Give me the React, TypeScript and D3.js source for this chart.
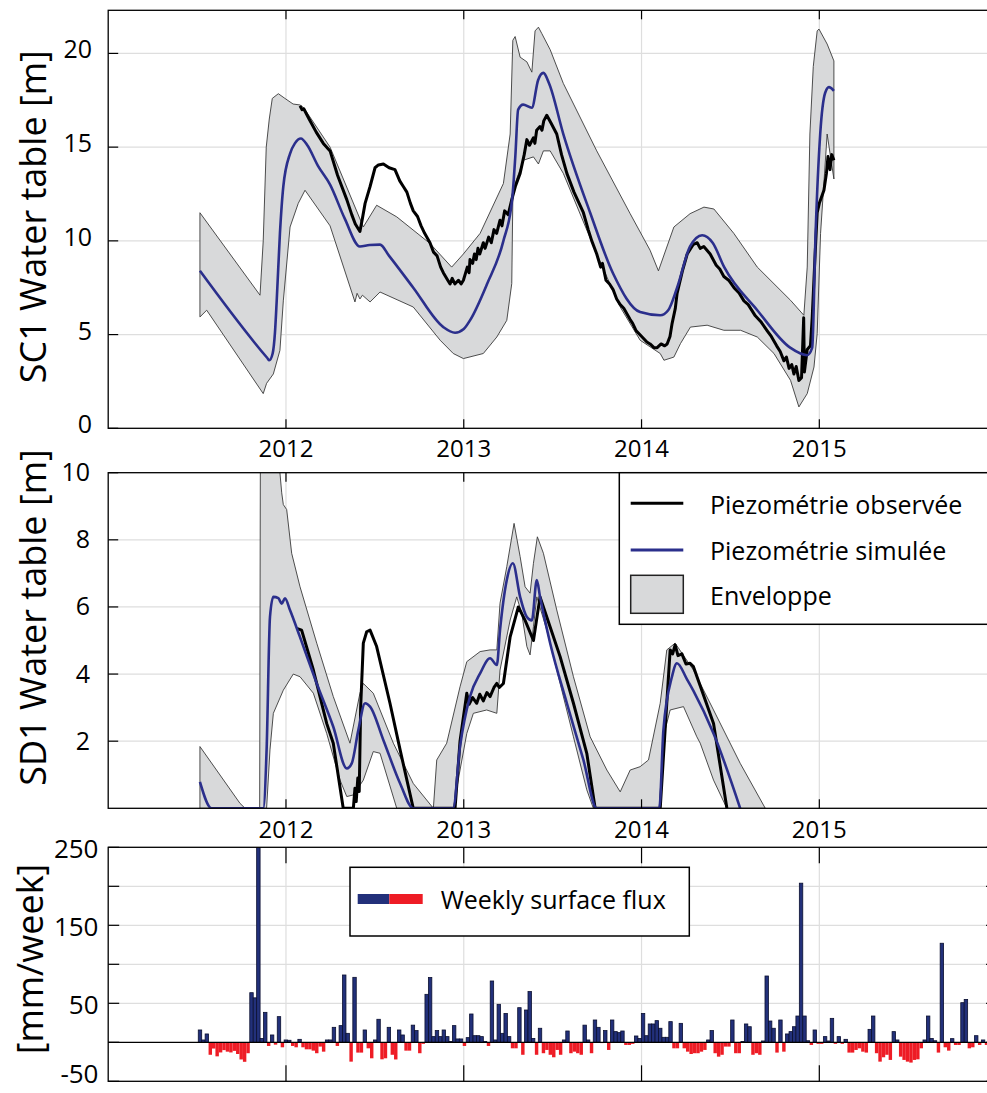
import React from 'react';
import * as d3 from 'd3';

type P = [number, number];

// ---------- tick values ----------
const yearTicks = [2012, 2013, 2014, 2015];
const sc1Ticks = [0, 5, 10, 15, 20];
const sd1Ticks = [2, 4, 6, 8, 10];
const fluxTicks = [-50, 0, 50, 100, 150, 200, 250];
const fluxLabels = [250, 150, 50, -50];

// ---------- SC1 ----------
const sc1Sim: P[] = [
  [2011.516, 8.4], [2011.895, 3.75], [2011.906, 3.63], [2011.925, 3.99], [2011.938, 5.1], [2011.948, 6.83],
  [2011.966, 10.4], [2011.985, 12.9], [2012.023, 14.66], [2012.05, 15.2], [2012.084, 15.46], [2012.12, 15.1],
  [2012.18, 14.0], [2012.248, 13.0], [2012.33, 11.2], [2012.416, 9.7], [2012.47, 9.78], [2012.529, 9.8],
  [2012.58, 9.2], [2012.716, 7.5], [2012.885, 5.4], [2012.951, 5.1], [2013.0, 5.3], [2013.035, 5.76],
  [2013.131, 7.7], [2013.223, 10.0], [2013.272, 12.2], [2013.29, 14.5], [2013.306, 17.0], [2013.334, 17.27],
  [2013.383, 17.1], [2013.418, 18.57], [2013.448, 18.96], [2013.48, 18.4], [2013.56, 15.7], [2013.711, 11.5],
  [2013.84, 8.26], [2013.992, 6.2], [2014.105, 6.03], [2014.15, 6.3], [2014.2, 7.5], [2014.273, 9.7],
  [2014.341, 10.3], [2014.4, 9.9], [2014.465, 8.6], [2014.651, 6.3], [2014.836, 4.3], [2014.932, 3.9],
  [2014.96, 4.3], [2014.979, 10.4], [2015.005, 15.7], [2015.033, 17.9], [2015.054, 18.2], [2015.082, 18.0],
];

const sc1Obs: P[] = [
  [2012.079, 17.2], [2012.09, 17.0], [2012.1, 17.05], [2012.13, 16.5], [2012.17, 15.8], [2012.21, 15.2],
  [2012.248, 14.8], [2012.29, 13.5], [2012.342, 12.2], [2012.37, 11.4], [2012.39, 10.9], [2012.416, 10.5],
  [2012.43, 11.2], [2012.445, 12.0], [2012.473, 12.9], [2012.501, 13.9], [2012.52, 14.05], [2012.548, 14.1],
  [2012.58, 13.9], [2012.613, 13.8], [2012.64, 13.2], [2012.66, 12.9], [2012.68, 12.6], [2012.7, 12.0],
  [2012.716, 11.6], [2012.74, 11.3], [2012.76, 10.8], [2012.78, 10.4], [2012.81, 9.9], [2012.83, 9.4],
  [2012.85, 9.2], [2012.87, 8.6], [2012.885, 8.3], [2012.91, 7.9], [2012.923, 7.7], [2012.935, 8.0],
  [2012.95, 7.7], [2012.97, 7.9], [2012.985, 7.7], [2012.998, 7.9], [2013.02, 8.6], [2013.03, 8.3],
  [2013.035, 9.0], [2013.05, 8.8], [2013.06, 9.3], [2013.07, 9.0], [2013.08, 9.6], [2013.09, 9.3],
  [2013.11, 9.9], [2013.12, 9.6], [2013.14, 10.2], [2013.155, 9.9], [2013.17, 10.6], [2013.185, 10.4],
  [2013.204, 11.1], [2013.215, 10.8], [2013.23, 11.6], [2013.25, 11.4], [2013.27, 12.2], [2013.29, 12.9],
  [2013.317, 13.6], [2013.34, 14.6], [2013.355, 15.4], [2013.37, 15.1], [2013.392, 15.5], [2013.4, 15.2],
  [2013.41, 15.9], [2013.429, 16.1], [2013.44, 15.9], [2013.45, 16.4], [2013.467, 16.7], [2013.49, 16.3],
  [2013.523, 15.7], [2013.55, 14.6], [2013.58, 13.6], [2013.62, 12.6], [2013.673, 11.5], [2013.7, 10.6],
  [2013.72, 10.0], [2013.748, 9.3], [2013.77, 8.6], [2013.78, 8.8], [2013.8, 7.9], [2013.82, 7.7],
  [2013.84, 7.4], [2013.86, 6.9], [2013.88, 6.6], [2013.9, 6.4], [2013.936, 5.8], [2013.95, 5.6],
  [2013.97, 5.2], [2013.99, 5.0], [2014.01, 4.8], [2014.03, 4.6], [2014.048, 4.5], [2014.07, 4.3],
  [2014.088, 4.3], [2014.11, 4.5], [2014.13, 4.4], [2014.144, 4.5], [2014.16, 4.9], [2014.172, 5.6],
  [2014.19, 6.4], [2014.2, 7.2], [2014.23, 8.4], [2014.257, 9.3], [2014.29, 9.8], [2014.313, 9.9],
  [2014.33, 9.6], [2014.35, 9.7], [2014.386, 9.3], [2014.42, 8.7], [2014.44, 8.5], [2014.463, 8.1],
  [2014.49, 7.9], [2014.52, 7.5], [2014.55, 7.2], [2014.576, 6.8], [2014.6, 6.6], [2014.64, 6.0],
  [2014.67, 5.7], [2014.707, 5.2], [2014.73, 4.9], [2014.76, 4.4], [2014.78, 4.1], [2014.801, 3.6],
  [2014.815, 3.8], [2014.83, 3.2], [2014.845, 3.4], [2014.857, 2.9], [2014.87, 3.3], [2014.885, 2.55],
  [2014.9, 2.7], [2014.912, 5.9], [2014.916, 3.0], [2014.932, 4.2], [2014.95, 4.4], [2014.96, 5.9],
  [2014.975, 9.0], [2014.988, 11.5], [2015.0, 12.0], [2015.026, 12.7], [2015.04, 13.6], [2015.049, 14.5],
  [2015.06, 13.8], [2015.07, 14.6], [2015.082, 14.3],
];

const sc1Upper: P[] = [
  [2011.516, 11.5], [2011.854, 7.1], [2011.872, 10.0], [2011.889, 15.0], [2011.906, 16.5], [2011.923, 17.6],
  [2011.957, 17.85], [2011.994, 17.6], [2012.04, 17.3], [2012.079, 17.25], [2012.1, 17.1], [2012.248, 15.0],
  [2012.435, 10.74], [2012.51, 11.9], [2012.623, 11.28], [2012.81, 9.86], [2012.932, 8.6], [2012.998, 9.3],
  [2013.092, 10.4], [2013.223, 13.06], [2013.261, 15.7], [2013.276, 20.7], [2013.289, 20.9], [2013.317, 19.8],
  [2013.355, 19.55], [2013.383, 19.0], [2013.401, 21.2], [2013.42, 21.4], [2013.439, 21.06], [2013.486, 20.2],
  [2013.56, 18.4], [2013.748, 14.8], [2013.936, 11.45], [2014.048, 9.5], [2014.095, 8.4], [2014.182, 10.74],
  [2014.273, 11.45], [2014.351, 11.8], [2014.407, 11.7], [2014.519, 10.4], [2014.651, 8.6], [2014.838, 6.83],
  [2014.913, 6.03], [2014.932, 8.6], [2014.947, 15.7], [2014.966, 19.3], [2014.988, 21.2], [2014.998, 21.3],
  [2015.044, 20.5], [2015.082, 19.6],
];

const sc1Lower: P[] = [
  [2011.516, 5.94], [2011.554, 6.3], [2011.872, 1.85], [2011.891, 2.4], [2011.929, 2.9], [2011.966, 4.16],
  [2011.985, 6.8], [2012.023, 10.74], [2012.069, 12.0], [2012.107, 12.7], [2012.248, 10.8], [2012.388, 6.74],
  [2012.4, 7.2], [2012.416, 6.9], [2012.43, 7.1], [2012.473, 6.74], [2012.529, 7.27], [2012.716, 6.47],
  [2012.867, 4.7], [2012.941, 3.99], [2012.998, 3.72], [2013.11, 3.99], [2013.186, 4.87], [2013.242, 5.76],
  [2013.27, 7.72], [2013.276, 12.2], [2013.289, 13.06], [2013.335, 14.3], [2013.392, 14.48], [2013.42, 14.1],
  [2013.448, 14.8], [2013.486, 14.8], [2013.56, 13.6], [2013.748, 9.3], [2013.88, 6.47], [2013.992, 4.7],
  [2014.105, 3.99], [2014.126, 3.63], [2014.182, 3.8], [2014.219, 4.52], [2014.275, 5.4], [2014.369, 5.5],
  [2014.463, 5.23], [2014.557, 5.23], [2014.651, 4.87], [2014.745, 3.99], [2014.838, 2.56], [2014.885, 1.14],
  [2014.932, 1.85], [2014.97, 3.27], [2014.988, 5.05], [2015.007, 10.4], [2015.044, 15.7], [2015.082, 13.3],
];

// ---------- SD1 ----------
const sd1Sim: P[] = [
  [2011.516, 0.79], [2011.582, 0], [2011.872, 0], [2011.891, 1.74], [2011.91, 5.7], [2011.929, 6.3],
  [2011.957, 6.26], [2011.976, 6.1], [2011.994, 6.26], [2012.023, 5.9], [2012.079, 5.1], [2012.173, 3.72],
  [2012.266, 2.43], [2012.342, 1.19], [2012.37, 1.34], [2012.407, 2.33], [2012.445, 3.13], [2012.473, 3.03],
  [2012.548, 2.03], [2012.642, 0.74], [2012.716, 0], [2012.94, 0], [2012.979, 1.84], [2013.035, 3.33],
  [2013.092, 4.02], [2013.148, 4.47], [2013.186, 4.27], [2013.204, 5.31], [2013.242, 6.8], [2013.276, 7.3],
  [2013.317, 6.3], [2013.355, 5.7], [2013.383, 5.6], [2013.411, 6.8], [2013.429, 6.3], [2013.486, 4.92],
  [2013.58, 3.13], [2013.673, 1.44], [2013.748, 0], [2014.1, 0], [2014.123, 2.33], [2014.171, 3.92],
  [2014.199, 4.32], [2014.255, 3.85], [2014.292, 3.5], [2014.405, 2.23], [2014.555, 0],
];

const sd1Obs: P[] = [
  [2012.06, 5.36], [2012.088, 5.31], [2012.154, 4.12], [2012.229, 2.53], [2012.266, 1.94], [2012.322, 0],
  [2012.379, 0], [2012.388, 0.6], [2012.395, 0.2], [2012.404, 0.9], [2012.412, 0.5], [2012.42, 3.0],
  [2012.435, 4.92], [2012.454, 5.26], [2012.473, 5.31], [2012.51, 4.82], [2012.585, 3.13], [2012.642, 1.74],
  [2012.716, 0], [2012.951, 0], [2012.979, 2.0], [2013.017, 3.43], [2013.03, 3.1], [2013.05, 3.3],
  [2013.073, 3.13], [2013.09, 3.4], [2013.11, 3.2], [2013.13, 3.45], [2013.148, 3.33], [2013.17, 3.6],
  [2013.186, 3.72], [2013.2, 3.6], [2013.223, 3.72], [2013.261, 5.11], [2013.307, 6.0], [2013.345, 5.6],
  [2013.392, 5.0], [2013.429, 6.3], [2013.467, 5.7], [2013.542, 4.52], [2013.617, 3.13], [2013.692, 1.64],
  [2013.739, 0], [2014.105, 0], [2014.142, 3.13], [2014.161, 4.72], [2014.175, 4.6], [2014.189, 4.87],
  [2014.205, 4.55], [2014.227, 4.6], [2014.25, 4.3], [2014.273, 4.32], [2014.292, 4.22], [2014.405, 2.53],
  [2014.48, 0],
];

const sd1Upper: P[] = [
  [2011.516, 1.84], [2011.741, 0.15], [2011.77, 0], [2011.852, 0], [2011.856, 10.8], [2011.94, 11.0],
  [2011.966, 10.0], [2011.976, 9.4], [2011.985, 9.05], [2012.004, 8.9], [2012.032, 7.6], [2012.079, 6.6],
  [2012.173, 4.92], [2012.266, 3.33], [2012.36, 1.94], [2012.416, 3.43], [2012.435, 3.72], [2012.491, 3.43],
  [2012.604, 1.94], [2012.716, 0.74], [2012.829, 0], [2012.848, 1.44], [2012.904, 1.94], [2012.979, 3.62],
  [2013.017, 4.37], [2013.092, 4.67], [2013.148, 4.72], [2013.186, 4.72], [2013.204, 6.11], [2013.242, 7.2],
  [2013.283, 8.49], [2013.317, 7.5], [2013.345, 6.6], [2013.373, 6.41], [2013.392, 7.3], [2013.414, 8.09],
  [2013.448, 7.6], [2013.523, 5.91], [2013.617, 3.92], [2013.711, 2.13], [2013.805, 1.14], [2013.88, 0.49],
  [2013.936, 1.14], [2013.992, 1.24], [2014.039, 1.44], [2014.105, 3.13], [2014.142, 4.72], [2014.189, 4.92],
  [2014.292, 4.12], [2014.405, 2.93], [2014.555, 1.34], [2014.696, 0],
];

const sd1Lower: P[] = [
  [2011.516, 0], [2011.891, 0], [2011.91, 1.74], [2011.929, 2.83], [2011.985, 3.52], [2012.041, 4.0],
  [2012.079, 3.92], [2012.154, 3.43], [2012.229, 2.23], [2012.304, 0.84], [2012.342, 0.35], [2012.38, 0.4],
  [2012.435, 0.84], [2012.491, 1.69], [2012.529, 1.64], [2012.623, 0], [2012.941, 0], [2012.979, 1.14],
  [2013.017, 2.23], [2013.054, 2.83], [2013.129, 2.93], [2013.186, 2.83], [2013.204, 4.12], [2013.261, 5.61],
  [2013.298, 6.3], [2013.326, 5.81], [2013.355, 4.82], [2013.373, 4.57], [2013.392, 5.41], [2013.411, 6.3],
  [2013.467, 5.31], [2013.542, 3.72], [2013.617, 2.13], [2013.692, 0.55], [2013.729, 0], [2014.105, 0],
  [2014.123, 2.13], [2014.161, 2.93], [2014.236, 3.03], [2014.311, 2.13], [2014.33, 1.94], [2014.405, 0.84],
  [2014.48, 0], [2014.696, 0],
];

// ---------- weekly surface flux [mm/week] ----------
const fluxStart = 2011.5066;
const fluxWeek = 0.01932;
const flux: number[] = [
  15.8, 3, 10.7, -16, -8, -18, -13, -10, -12, -13, -11, -15, -22, -25, -14, 63.6, 57, 270, 5, 38.4,
  -4.7, 9.4, -3, 32.9, -6.4, 3, 2.6, -4.7, -6.4, 3.8, -6.4, -9, -9, -10.7, -14, -5.5, -12, 3, 3, 19.2,
  -4.7, 21.4, 86.3, 11.5, -24.8, 83.3, -13.2, -13.2, 15.8, -7.7, -20.5, 3, 29.5, -21.8, -20.5, 19.2, -16, -22, 15.8, 9.4,
  -10.7, -10.7, 22, 15, -14, -2, 61.5, 83, 7.3, 15, 7.3, 15.8, 7.3, 1, 21.4, 4.3, 4.3, -4.7, 6, 36.3,
  8.5, 8.5, 7.3, 1, -4.7, 78.6, 3, 48.7, 11.5, 37, 7.3, -7.7, -7.7, 44.4, -16, 41.4, 65, 5, -16, 18,
  -14, -9.8, -16, -19.2, -9.8, -16, 3, 14.5, -14, -12, -14, -16, 22, 3, -14, 28.6, 19.2, -1, 15, -9.8,
  28.6, 13.7, 12.4, 14.5, -3.4, -3.4, -2, 8.1, 5, 37, 8.5, 23.5, 23.5, 27.8, 18, 6.4, 6.4, 26.5, -7.7, -7.7,
  24.3, -7.7, -12, -15, -14, -14, -12, -9.8, 3, 15, -14, -18.4, -16, -5.5, -5.5, 28.6, -14, -14, 1, 23.5,
  20, -16, -14, -16, 1.7, 85, 27.3, 18, -13.2, 28.6, -12, 10.7, 13.7, 20, 33.7, 204, 33.7, 2, -3.4, 15.8,
  -2, -2, 7.3, 1.7, 30.7, -2, 7.3, -2, 3.8, -13.2, -13.2, -9.8, -7.7, -12, -13.2, 16.6, 33.7, -14, -24.8, -19.2,
  -16, -22.6, 13.7, 3, -18.4, -22.6, -24.8, -26, -22.6, -21.8, -7.7, 3, 33.7, 5, 2, -13.2, 127, -6.4, -10.7, 4.7,
  -3.4, -3.4, 50.8, 55, -7.7, -6.4, 8.5, -3.4, 3, -3.4,
];

// ---------- layout ----------
const W = 987;
const H = 1093;
const FONT = "'Open Sans', 'Noto Sans', sans-serif";
const BLUE = '#2b2f8c';
const ENV_FILL = '#d8d9da';
const GRID = '#dedede';

const x = d3.scaleLinear().domain([2011, 2016]).range([108.2, 997.1]);
const X_LEFT = 108.2;
const X_RIGHT = 997.1;

const yTop = d3.scaleLinear().domain([0, 22.3]).range([428.3, 10.3]);
const yMid = d3.scaleLinear().domain([0, 10]).range([808.3, 472.7]);
const yBot = d3.scaleLinear().domain([-50, 250]).range([1081.3, 847.3]);

function linePath(y: d3.ScaleLinear<number, number>, pts: P[], smooth = false) {
  const gen = d3.line<P>().x((d) => x(d[0])).y((d) => y(d[1]));
  if (smooth) gen.curve(d3.curveMonotoneX);
  return gen(pts) || '';
}
function envPath(y: d3.ScaleLinear<number, number>, up: P[], lo: P[]) {
  return linePath(y, up.concat(lo.slice().reverse())) + 'Z';
}

function Frame({ y, ticks, xTick, yTick }: { y: d3.ScaleLinear<number, number>; ticks: number[]; xTick: number; yTick: number }) {
  const [b, t] = y.range();
  return (
    <g>
      <rect x={X_LEFT} y={t} width={X_RIGHT - X_LEFT} height={b - t} fill="none" stroke="#000" strokeWidth={1.3} />
      {yearTicks.map((yr) => (
        <g key={'xt' + yr}>
          <line x1={x(yr)} x2={x(yr)} y1={b} y2={b - xTick} stroke="#000" strokeWidth={1.2} />
          <line x1={x(yr)} x2={x(yr)} y1={t} y2={t + xTick} stroke="#000" strokeWidth={1.2} />
        </g>
      ))}
      {ticks.map((v) => (
        <g key={'yt' + v}>
          <line x1={X_LEFT} x2={X_LEFT + yTick} y1={y(v)} y2={y(v)} stroke="#000" strokeWidth={1.2} />
          <line x1={X_RIGHT} x2={X_RIGHT - yTick} y1={y(v)} y2={y(v)} stroke="#000" strokeWidth={1.2} />
        </g>
      ))}
    </g>
  );
}

function Grid({ y, ticks }: { y: d3.ScaleLinear<number, number>; ticks: number[] }) {
  const [b, t] = y.range();
  return (
    <g>
      {yearTicks.map((yr) => (
        <line key={'gx' + yr} x1={x(yr)} x2={x(yr)} y1={t} y2={b} stroke={GRID} strokeWidth={1.2} />
      ))}
      {ticks.map((v) => (
        <line key={'gy' + v} x1={X_LEFT} x2={X_RIGHT} y1={y(v)} y2={y(v)} stroke={GRID} strokeWidth={1.2} />
      ))}
    </g>
  );
}

export default function App() {
  const [tb, tt] = yTop.range();
  const [mb, mt] = yMid.range();
  const [bb, bt] = yBot.range();
  const bars = flux.map((v, i) => {
    const x0 = x(fluxStart + i * fluxWeek);
    const x1 = x(fluxStart + (i + 1) * fluxWeek);
    const y0 = yBot(Math.max(0, v));
    const y1 = yBot(Math.min(0, v));
    return { x0, w: x1 - x0, y0, h: y1 - y0, pos: v > 0 };
  });

  return (
    <svg width={W} height={H} style={{ position: 'absolute', left: 0, top: 0, background: '#fff' }} fontFamily={FONT}>
      <defs>
        <clipPath id="cTop"><rect x={X_LEFT} y={tt} width={X_RIGHT - X_LEFT} height={tb - tt} /></clipPath>
        <clipPath id="cMid"><rect x={X_LEFT} y={mt} width={X_RIGHT - X_LEFT} height={mb - mt} /></clipPath>
        <clipPath id="cBot"><rect x={X_LEFT} y={bt} width={X_RIGHT - X_LEFT} height={bb - bt} /></clipPath>
      </defs>
      <rect x={0} y={0} width={W} height={H} fill="#fff" />

      {/* ---------- top panel ---------- */}
      <Grid y={yTop} ticks={sc1Ticks.filter((v) => v > 0)} />
      <g clipPath="url(#cTop)">
        <path d={envPath(yTop, sc1Upper, sc1Lower)} fill={ENV_FILL} stroke="#3a3a3a" strokeWidth={0.9} />
        <path d={linePath(yTop, sc1Obs)} fill="none" stroke="#000" strokeWidth={3} strokeLinejoin="round" />
        <path d={linePath(yTop, sc1Sim, true)} fill="none" stroke={BLUE} strokeWidth={2.6} strokeLinejoin="round" />
      </g>
      <Frame y={yTop} ticks={sc1Ticks} xTick={9} yTick={10} />
      {sc1Ticks.map((v) => (
        <text key={'l1' + v} x={92} y={yTop(v) + 5} fontSize={25} textAnchor="end">{v}</text>
      ))}
      {yearTicks.map((yr) => (
        <text key={'lx1' + yr} x={x(yr)} y={456.7} fontSize={24} textAnchor="middle">{yr}</text>
      ))}
      <text transform={`translate(46,216.7) rotate(-90)`} fontSize={36} textAnchor="middle">SC1 Water table [m]</text>

      {/* ---------- middle panel ---------- */}
      <Grid y={yMid} ticks={sd1Ticks.filter((v) => v < 10)} />
      <g clipPath="url(#cMid)">
        <path d={envPath(yMid, sd1Upper, sd1Lower)} fill={ENV_FILL} stroke="#3a3a3a" strokeWidth={0.9} />
        <path d={linePath(yMid, sd1Obs)} fill="none" stroke="#000" strokeWidth={3} strokeLinejoin="round" />
        <path d={linePath(yMid, sd1Sim, true)} fill="none" stroke={BLUE} strokeWidth={2.6} strokeLinejoin="round" />
      </g>
      <Frame y={yMid} ticks={sd1Ticks} xTick={9} yTick={10} />
      {sd1Ticks.map((v) => (
        <text key={'l2' + v} x={90} y={yMid(v) + 8.5} fontSize={25} textAnchor="end">{v}</text>
      ))}
      {yearTicks.map((yr) => (
        <text key={'lx2' + yr} x={x(yr)} y={838.3} fontSize={24} textAnchor="middle">{yr}</text>
      ))}
      <text transform={`translate(46,617.5) rotate(-90)`} fontSize={36} textAnchor="middle">SD1 Water table [m]</text>

      {/* legend */}
      <g>
        <rect x={619.3} y={mt} width={400} height={151.6} fill="#fff" stroke="#000" strokeWidth={1.5} />
        <line x1={630.7} x2={683.3} y1={503.3} y2={503.3} stroke="#000" strokeWidth={3} />
        <line x1={630.7} x2={683.3} y1={550} y2={550} stroke={BLUE} strokeWidth={3} />
        <rect x={630.7} y={575.3} width={52.6} height={38} fill={ENV_FILL} stroke="#222" strokeWidth={1.5} />
        <text x={710} y={514} fontSize={25}>Piezométrie observée</text>
        <text x={710} y={560} fontSize={25}>Piezométrie simulée</text>
        <text x={710} y={605} fontSize={25}>Enveloppe</text>
      </g>

      {/* ---------- bottom panel ---------- */}
      <Grid y={yBot} ticks={[50, 100, 150, 200]} />
      <g clipPath="url(#cBot)">
        {bars.map((b, i) => (
          <rect key={'b' + i} x={b.x0} y={b.y0} width={b.w} height={b.h}
            fill={b.pos ? '#22307a' : '#ee1c25'} stroke={b.pos ? '#0b1030' : 'none'} strokeWidth={b.pos ? 0.8 : 0} />
        ))}
        <line x1={X_LEFT} x2={X_RIGHT} y1={yBot(0)} y2={yBot(0)} stroke="#000" strokeWidth={1.3} />
      </g>
      <Frame y={yBot} ticks={fluxTicks} xTick={16} yTick={11} />
      {fluxLabels.map((v) => (
        <text key={'l3' + v} x={98.5} y={Math.min(yBot(v) + 11, 1083)} fontSize={26} textAnchor="end">{v}</text>
      ))}
      <text transform={`translate(43,959) rotate(-90)`} fontSize={36} textAnchor="middle">[mm/week]</text>
      <g>
        <rect x={350} y={867.3} width={339.3} height={68.7} fill="#fff" stroke="#000" strokeWidth={1.5} />
        <rect x={357.7} y={894} width={31.6} height={10} fill="#22307a" />
        <rect x={389.3} y={894} width={33.4} height={10} fill="#ee1c25" />
        <text x={440.7} y={909.3} fontSize={25}>Weekly surface flux</text>
      </g>
    </svg>
  );
}
